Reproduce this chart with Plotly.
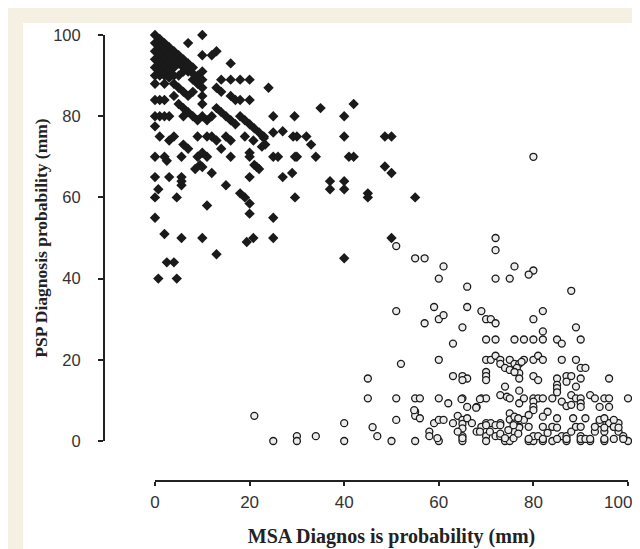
import plotly.graph_objects as go

# PSP group (filled diamonds): MSA probability (x), PSP probability (y)
psp_pts = [
    (0,100),(1,99),(2,98),(0,98),(3,97),(1,97),(0,96),(2,96),(4,96),(5,95),(1,95),(3,95),
    (0,94),(2,94),(4,94),(6,94),(7,93),(1,93),(3,93),(5,93),(0,92),(2,92),(8,92),(6,92),
    (4,92),(3,91),(7,91),(9,90),(0,90),(1,90),(5,90),(8,89),
    (1,91),(2,90),(4,90),(6,91),(8,90.5),(3,89.5),
    (10,100),(7,98),(10,95),(12,95),(13,96),(16,93),
    (10,91),(10,89),(10,87),(10,85),(10,83),(9,88),(8,86),(7,85),(6,86),(5,87),(4,88),
    (14,89),(16,89),(18,89),(20,89),(2,88),(0,88),(24,87),
    (13,87),(14,86),(16,85),(17,84),(18,84),(20,84),
    (0,84),(1,84),(2,84),(4,85),
    (0,80),(1,80),(2,80),(3,80),(25,80),(29.5,80),
    (5,83),(6,82),(7,81),(8,80),(9,79),(11,79),(12,80),(13,82),(15,80),(16,79),(17,78),
    (18,80),(19,79),(20,78),(6,80),(10,80),(14,81),(21,77),(22,76),(23,75),
    (0,77.5),(1,75),(4,75),(3,74),(9,75),(11,75),(12,75),(13,74),(15,75),(6,73),(7,72),(16,74),
    (19,75),(20.8,74),(23,74.6),(25,76),(27,76.3),(29.2,75),
    (0,70),(2,70),(2.5,69),(5.6,70),(9,70),(10,71),(11,70),(9.5,68),(8.5,67),(10,67.5),
    (14,72),(16,70),(20,71),(20,70),(21,68),(21.5,67.5),(22,67),(22.6,72.5),(23.3,73),
    (25,70),(26,70),(29.6,70),
    (12,66),(0,65),(3,65),(5.6,65),(5.6,64),(5.6,63),(15,63),(20,65),(27,65),(29,66),(0.7,62),
    (0,60),(4.6,60),(11,58),(18,61),(19,60),(20,58.5),(29.6,60),
    (0,55),(20,56),(25,55),
    (2,51),(5.6,50),(10,50),(19.4,49),(20.8,50),(25,50),
    (13,46),(2.5,44),(4,44),(0.7,40),(4.6,40),
    (35,82),(42,83),(40,80),(30,75),(32,75),(33,73),(40,75),(48.6,75),(50,75),
    (30,70),(34,70),(41,70),(42,70),(48.6,67.6),(50,66),(37,64),(37,62),(40,64),(40,62),
    (45,61),(45,60),(55,60),(50,50),(40,45),
]

# MSA group (open circles)
msa_pts = [
    (80,70),(51,48),(72,50),(72,47),(55,45),(57,45),(61,43),(76,43),(80,42),(79,41),
    (60,40),(72,40),(75,40),(66,38),(88,37),
    (51,32),(59,33),(60,30),(61,31),(57,29),(66,33),(69,32),(70,30),(71,30),(72,29),
    (80,30),(82,32),(82,27),(89,28),(65,28),(63,24),
    (70,25),(72,25),(76,25),(78,25),(80,25),(82,25),(85,25),(86,24),(90,25),
    (52,19),(60,20),(70,20),(71,20),(72,21),(73,20),(75,20),(76,19),(78,20),(80,20),
    (81,21),(82,20),(86,20),(89,20),
    (73,19),(74,18),(75,17.5),(77,19),(77.5,19.5),(76.5,18),(77,16.7),(76,17),
    (63,16),(65,16),(66,15.4),(65,15),(70,17),(70,16),(70,15),(77,15.4),(80,16),(81,15),
    (85,15.4),(85,13.8),(85,13),(85,12),(87,16),(87,14.6),(88,16),(90,15.4),(90,18),
    (91,18),(89,13.4),(96,15.4),(45,15.4),
    (45,10.5),(51,10.5),(55,10.5),(56,10.5),(60,10.5),(62,9.3),(65,10.5),(69,10.5),
    (70,10.5),(66,8.4),(68,8.4),
    (74,13.4),(73,11.3),(74.4,10.9),(75,10.5),(77,12.4),(77,9.3),(78,10.5),(80,10.5),
    (81,10.5),(82,10.5),(84,10.5),(80,9.7),(80,8.4),(80,7.6),
    (88,11.3),(89,10.5),(90,10.5),(90,9.3),(90,8.4),(92,11.3),(93,10.5),(95,10.5),
    (96,10.5),(100,10.5),(86,9.7),(87,8.6),(88,8.9),(94,8.4),(96,8.4),(83,7.2),
    (55,7.2),(55,6.2),(56,5.6),(51,5.2),(59,4.4),(60,5.2),(61,5.2),(63,4.4),(64,6.2),
    (65,5.2),(65,4.2),(65,3.1),
    (40,4.4),(40,0),(46,3.4),(47,1.2),(50,0),(55,0),(58,2.3),(58,1.2),(60,0),(65,1.2),(65,0),
    (68,2.3),(69,3.5),(70,4.4),(70,1.2),(70,0),(71,4.4),(72,1.2),(73,4.4),(73,1.2),(74,0),
    (75,0),(75,6.8),(75,5.3),(76,4.4),(76,2.3),(77,3.5),(78,5.2),
    (79,0),(80,0),(80,1.2),(81,1.2),(82,0),(84,0),(86,1.2),(87,1.2),(87,0),(88,2.3),(90,0),
    (90,1.2),(92,0),(93,2.3),(94,4.4),(95,2.3),(95,0),(96,4.4),(97,3.5),(98,4.4),(98,2.3),
    (99,1.2),(100,0),
    (76,6),(79,6.4),(82,6),(85,5.6),(88.4,5.6),(91,5.6),(94,5.2),(95,5.6),(97,5.2),
    (77,3.3),(79,3.5),(82,3.5),(84,3.5),(85,3.3),(89,3.5),(90,3.5),(93,3.5),(95,3.3),
    (97,3.5),(98,3.3),
    (79,0.5),(82,0.5),(83,2),(85,0.5),(87,0.5),(90,0.5),(91,0.5),(92,0.5),(95,0.5),
    (97,0.5),(99,0.5),
    (21,6.2),(25,0),(30,1.2),(30,0),(34,1.2),
    (64,2.3),(65,0.7),(66,5.6),(67,4.4),
    (68.7,2.3),(70,3.9),(70.8,2.3),(72,3.9),(73,3.9),(73,1.8),(74,0.7),(74.7,2.7),
    (75.8,3.9),(75.8,0.7),(76.8,5.6),(76.8,1.8),(54.8,7.6),(59.7,0.7),(64.8,10.3),
    (68.7,10.3),(67.9,8.2),
]

psp_x = [p[0] for p in psp_pts]
psp_y = [p[1] for p in psp_pts]
msa_x = [p[0] for p in msa_pts]
msa_y = [p[1] for p in msa_pts]

tick_vals = [0, 20, 40, 60, 80, 100]
tick_text = ["0", "20", "40", "60", "80", "100"]
x_title = "MSA Diagnos is probability (mm)"
y_title = "PSP Diagnosis probability (mm)"

fig = go.Figure()
fig.add_trace(go.Scatter(
    x=msa_x, y=msa_y, mode="markers", cliponaxis=False,
    marker=dict(symbol="circle", size=7, color="#ececec",
                line=dict(color="#1a1a1a", width=1.3)),
    showlegend=False))
fig.add_trace(go.Scatter(
    x=psp_x, y=psp_y, mode="markers", cliponaxis=False,
    marker=dict(symbol="diamond", size=8, color="#1a1a1a",
                line=dict(width=0)),
    showlegend=False))

# figure coordinates (page is offset by the 8px body margin)
L, R, T, B = 96, 20, 27, 76
W, H = 640, 549
pw, ph = W - L - R, H - T - B

def px2x(px):
    return (px - L) / pw

def py2y(py):
    return (H - B - py) / ph

tick_font = dict(family="Liberation Sans, Arial", size=17, color="#333")

# the last x tick label is right-aligned at its tick so it stays inside the window
x_tick_text = tick_text[:-1] + [""]

fig.update_layout(
    width=W, height=H,
    margin=dict(l=L, r=R, t=T, b=B, pad=0),
    paper_bgcolor="#f5f0e1",
    plot_bgcolor="rgba(0,0,0,0)",
    shapes=[
        dict(type="rect", xref="paper", yref="paper", layer="below",
             x0=px2x(15), x1=px2x(700), y0=py2y(700), y1=py2y(15),
             fillcolor="white", line=dict(width=0)),
    ],
    annotations=[
        dict(x=tick_vals[-1], xref="x", y=py2y(495), yref="paper",
             text=tick_text[-1], showarrow=False, xanchor="right", yanchor="middle",
             xshift=6, font=tick_font),
    ],
    xaxis=dict(
        domain=[px2x(147), 1], range=[0, 100], anchor="free", position=0,
        showline=True, linewidth=2, linecolor="#222", showgrid=False, zeroline=False,
        ticks="outside", ticklen=4, tickwidth=1.5, tickcolor="#222",
        tickvals=tick_vals, ticktext=x_tick_text, ticklabelstandoff=2,
        tickfont=tick_font,
        title=dict(text=x_title, standoff=17,
                   font=dict(family="Liberation Serif, Times New Roman", size=20,
                             color="#222", weight="bold")),
        automargin=False,
    ),
    yaxis=dict(
        domain=[py2y(433), 1], range=[0, 100], anchor="free", position=0,
        showline=True, linewidth=2, linecolor="#222", showgrid=False, zeroline=False,
        ticks="outside", ticklen=5, tickwidth=1.5, tickcolor="#222",
        tickvals=tick_vals, ticktext=tick_text, ticklabelstandoff=14,
        tickfont=dict(family="Liberation Sans, Arial", size=16.5, color="#333"),
        title=dict(text=y_title, standoff=0,
                   font=dict(family="Liberation Serif, Times New Roman", size=17.5,
                             color="#222", weight="bold")),
        automargin=False,
    ),
)

fig.write_html("out.html")
